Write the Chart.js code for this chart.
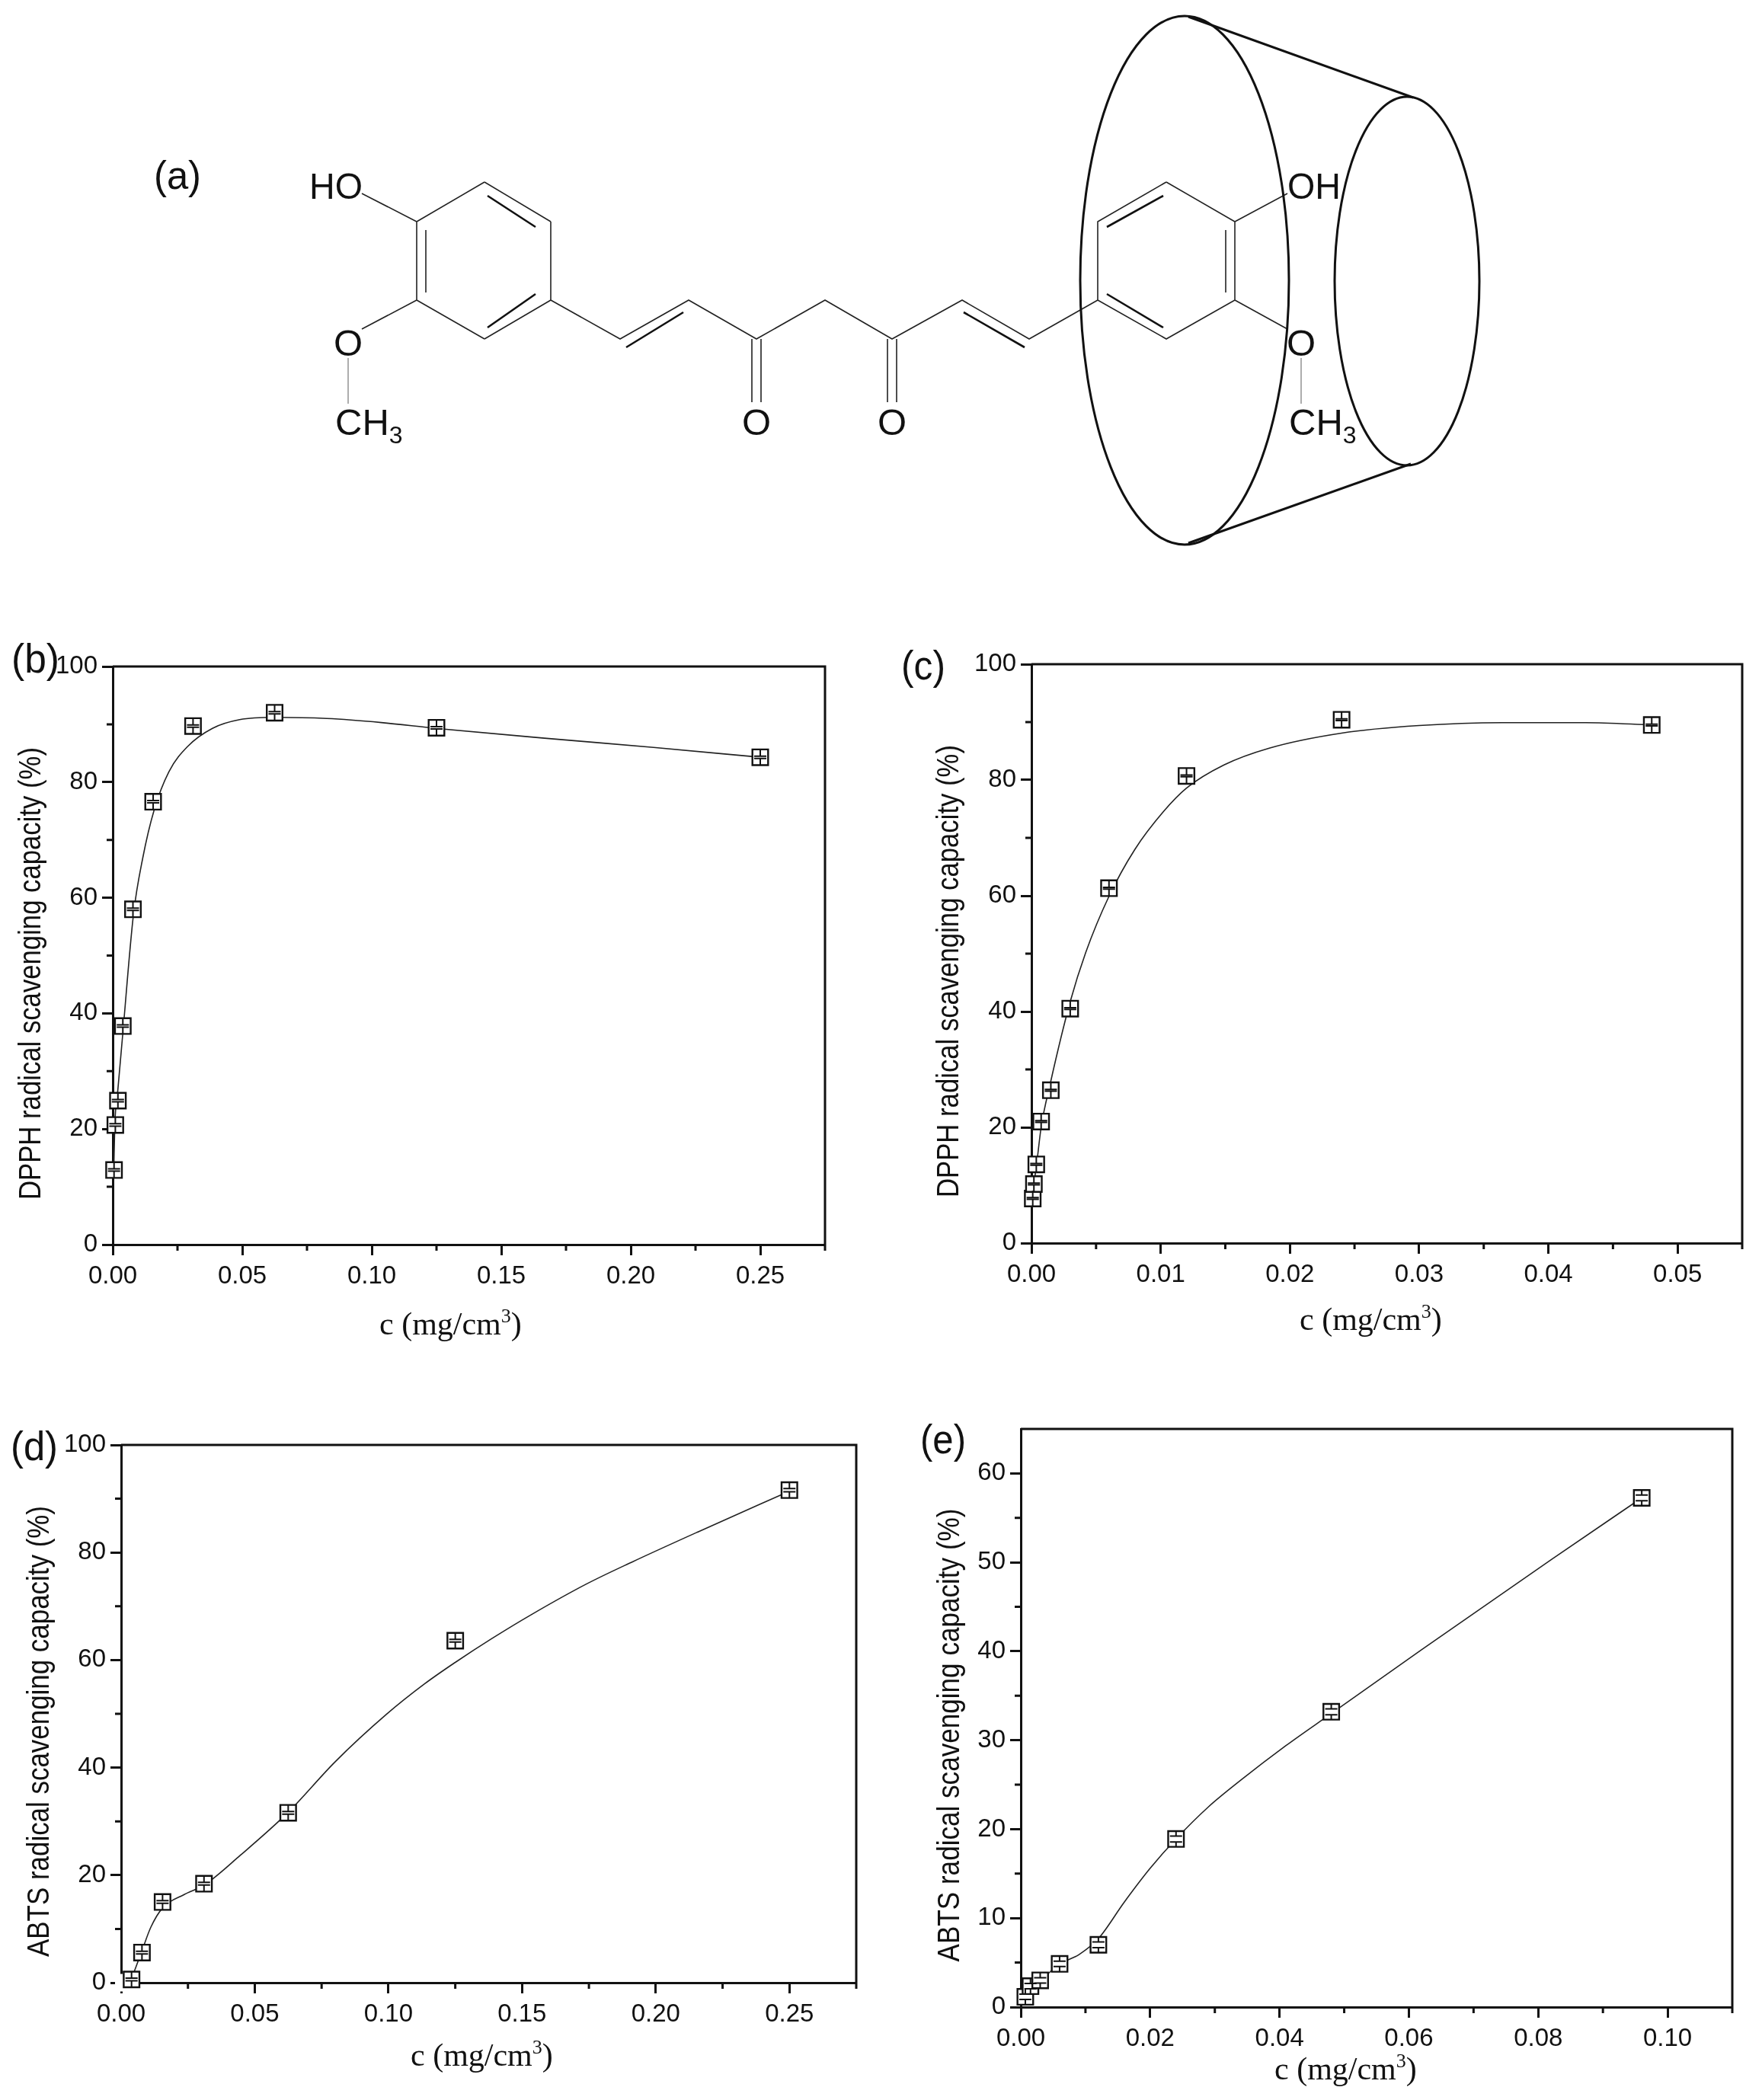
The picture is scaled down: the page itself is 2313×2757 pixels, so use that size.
<!DOCTYPE html>
<html>
<head>
<meta charset="utf-8">
<title>Curcumin scavenging capacity</title>
<script src="https://cdn.jsdelivr.net/npm/chart.js@4/dist/chart.umd.min.js"></script>
<style>
    html, body { margin: 0; padding: 0; background: #fff; }
    #page { position: relative; width: 2313px; height: 2757px; overflow: hidden; background: #fff; }
    canvas { position: absolute; }
    svg { position: absolute; left: 0; top: 0; }
    .sans { font-family: "Liberation Sans", Arial, sans-serif; fill: #111; }
    .serif { font-family: "Liberation Serif", "Times New Roman", serif; fill: #111; }
    .bond { stroke: #222; stroke-width: 1.6; fill: none; }
    .bold { stroke: #111; stroke-width: 2.6; fill: none; }
    .grey { stroke: #999; stroke-width: 1.6; fill: none; }
    .cone { stroke: #111; stroke-width: 3; fill: none; }
</style>
</head>
<body>
<div id="page">
    <canvas id="chartB"></canvas>
    <canvas id="chartC"></canvas>
    <canvas id="chartD"></canvas>
    <canvas id="chartE"></canvas>

    <svg width="2313" height="2757" viewBox="0 0 2313 2757">
        <!-- (a) curcumin structure in the cone -->
        <g>
            <path class="bond" d="M636 239 L723 291 M723 291 L723 394 M723 394 L636 445 M636 445 L547 394 M547 394 L547 291 M547 291 L636 239"/>
            <path class="bold" d="M640 257 L703 298 M703 386 L640 430"/>
            <path class="bond" d="M559 302 L559 384"/>
            <path class="bond" d="M475 254 L547 291 M547 394 L475 432"/>
            <path class="grey" d="M457 470 L457 530"/>
            <path class="bond" d="M723 394 L814 445 L904 394 L993 445 L1083 394 L1171 445 L1263 394 L1351 445 L1441 394"/>
            <path class="bold" d="M822 456 L897 410 M1265 410 L1345 456"/>
            <path class="bond" d="M987 445 L987 528 M999 445 L999 528 M1165 445 L1165 528 M1177 445 L1177 528"/>
            <path class="bond" d="M1531 239 L1441 291 L1441 394 L1531 445 L1621 394 L1621 291 L1531 239"/>
            <path class="bold" d="M1527 257 L1453 298 M1453 386 L1527 430"/>
            <path class="bond" d="M1609 302 L1609 384"/>
            <path class="bond" d="M1621 291 L1690 254 M1621 394 L1690 432"/>
            <path class="grey" d="M1708 470 L1708 530"/>
            <ellipse class="cone" cx="1555" cy="368" rx="137" ry="347"/>
            <ellipse class="cone" cx="1847" cy="369" rx="95" ry="242"/>
            <path class="cone" d="M1560 22 L1855 128 M1560 713 L1852 609"/>
        </g>
        <text class="sans" font-size="52" x="202" y="248" textLength="62" lengthAdjust="spacingAndGlyphs">(a)</text>
        <text class="sans" font-size="49" x="406" y="261" textLength="70" lengthAdjust="spacingAndGlyphs">HO</text>
        <text class="sans" font-size="49" x="1690" y="261" textLength="70" lengthAdjust="spacingAndGlyphs">OH</text>
        <text class="sans" font-size="49" x="457" y="467" text-anchor="middle">O</text>
        <text class="sans" font-size="49" x="1708" y="467" text-anchor="middle">O</text>
        <text class="sans" font-size="49" x="993" y="571" text-anchor="middle">O</text>
        <text class="sans" font-size="49" x="1171" y="571" text-anchor="middle">O</text>
        <text class="sans" font-size="49" x="440" y="571">CH<tspan font-size="32" dy="11">3</tspan></text>
        <text class="sans" font-size="49" x="1692" y="571">CH<tspan font-size="32" dy="11">3</tspan></text>

        <!-- panel letters -->
        <text class="sans" font-size="54" x="15" y="883" textLength="63" lengthAdjust="spacingAndGlyphs">(b)</text>
        <text class="sans" font-size="54" x="1183" y="892" textLength="58" lengthAdjust="spacingAndGlyphs">(c)</text>
        <text class="sans" font-size="54" x="14" y="1917" textLength="62" lengthAdjust="spacingAndGlyphs">(d)</text>
        <text class="sans" font-size="54" x="1208" y="1908" textLength="60" lengthAdjust="spacingAndGlyphs">(e)</text>

        <!-- axis titles -->
        <text class="sans" font-size="40" text-anchor="middle" textLength="594" lengthAdjust="spacingAndGlyphs" transform="translate(53 1278) rotate(-90)">DPPH radical scavenging capacity (%)</text>
        <text class="sans" font-size="40" text-anchor="middle" textLength="594" lengthAdjust="spacingAndGlyphs" transform="translate(1258 1275) rotate(-90)">DPPH radical scavenging capacity (%)</text>
        <text class="sans" font-size="40" text-anchor="middle" textLength="592" lengthAdjust="spacingAndGlyphs" transform="translate(64 2273) rotate(-90)">ABTS radical scavenging capacity (%)</text>
        <text class="sans" font-size="40" text-anchor="middle" textLength="595" lengthAdjust="spacingAndGlyphs" transform="translate(1259 2278) rotate(-90)">ABTS radical scavenging capacity (%)</text>
        <text class="serif" font-size="42" x="498" y="1752">c (mg/cm<tspan font-size="26" dy="-16">3</tspan><tspan dy="16">)</tspan></text>
        <text class="serif" font-size="42" x="1706" y="1746">c (mg/cm<tspan font-size="26" dy="-16">3</tspan><tspan dy="16">)</tspan></text>
        <text class="serif" font-size="42" x="539" y="2712">c (mg/cm<tspan font-size="26" dy="-16">3</tspan><tspan dy="16">)</tspan></text>
        <text class="serif" font-size="42" x="1673" y="2730">c (mg/cm<tspan font-size="26" dy="-16">3</tspan><tspan dy="16">)</tspan></text>
    </svg>
</div>

<script>
// (b) DPPH, wide concentration range
const bPointX = [0.0005, 0.001, 0.002, 0.0039, 0.0078, 0.0156, 0.031, 0.0625, 0.125, 0.25];
const bPointY = [12.9, 20.7, 24.9, 37.8, 58, 76.6, 89.7, 92, 89.4, 84.3];
const bErr = [0.2, 0.2, 0.2, 0.2, 0.2, 0.2, 0.2, 0.2, 0.2, 0.2];
const bCurveX = [0.0004, 0.0008, 0.0019, 0.0038, 0.008, 0.0116, 0.016, 0.0217, 0.029, 0.0385, 0.049, 0.0627, 0.0826, 0.1037, 0.1247, 0.1667, 0.2088, 0.25];
const bCurveY = [12.9, 20.7, 26.4, 36.1, 57.1, 66.9, 75.2, 81.8, 86.2, 89.3, 90.8, 91.2, 91, 90.3, 89.3, 87.6, 86, 84.3];
const bXTicks = [0, 0.05, 0.1, 0.15, 0.2, 0.25];
const bXMinor = [0.025, 0.075, 0.125, 0.175, 0.225, 0.275];
const bYTicks = [0, 20, 40, 60, 80, 100];
const bYMinor = [10, 30, 50, 70, 90];

// (c) DPPH, narrow concentration range
const cPointX = [0.0001, 0.00019, 0.000375, 0.00075, 0.0015, 0.003, 0.006, 0.012, 0.024, 0.048];
const cPointY = [7.7, 10.2, 13.6, 21, 26.4, 40.5, 61.3, 80.7, 90.4, 89.5];
const cErr = [0.15, 0.15, 0.15, 0.15, 0.15, 0.15, 0.15, 0.15, 0.15, 0.15];
const cCurveX = [0.0001, 0.0002, 0.0004, 0.00075, 0.00146, 0.003, 0.0042, 0.006, 0.008, 0.0102, 0.012, 0.0149, 0.0184, 0.024, 0.03, 0.0364, 0.0429, 0.0481];
const cCurveY = [7.7, 10.2, 13.6, 20, 27.6, 41.7, 50.2, 59.9, 68, 74.5, 78.6, 82.6, 85.5, 88.1, 89.4, 89.9, 89.9, 89.5];
const cXTicks = [0, 0.01, 0.02, 0.03, 0.04, 0.05];
const cXMinor = [0.005, 0.015, 0.025, 0.035, 0.045, 0.055];
const cYTicks = [0, 20, 40, 60, 80, 100];
const cYMinor = [10, 30, 50, 70, 90];

// (d) ABTS, wide concentration range
const dPointX = [0.001, 0.0039, 0.0078, 0.0155, 0.031, 0.0625, 0.125, 0.25];
const dPointY = [0, 0.6, 5.6, 15, 18.4, 31.6, 63.6, 91.6];
const dErr = [0, 0.25, 0.25, 0.25, 0.25, 0.25, 0.25, 0.3];
const dCurveX = [0.0038, 0.0077, 0.0111, 0.0155, 0.0236, 0.0312, 0.0446, 0.0623, 0.0801, 0.099, 0.1136, 0.1251, 0.1387, 0.1533, 0.1743, 0.191, 0.2161, 0.25];
const dCurveY = [0.6, 5.8, 10.3, 13.9, 16.4, 18.2, 23.7, 31.6, 41.1, 49.8, 55.6, 59.6, 64, 68.4, 74.2, 78.2, 83.9, 91.4];
const dXTicks = [0, 0.05, 0.1, 0.15, 0.2, 0.25];
const dXMinor = [0.025, 0.075, 0.125, 0.175, 0.225, 0.275];
const dYTicks = [0, 20, 40, 60, 80, 100];
const dYMinor = [10, 30, 50, 70, 90];

// (e) ABTS, narrow concentration range
const ePointX = [0.0007, 0.0015, 0.003, 0.006, 0.012, 0.024, 0.048, 0.096];
const ePointY = [1.15, 2.35, 3, 4.85, 7, 18.9, 33.2, 57.25];
const eErr = [0.3, 0.3, 0.3, 0.3, 0.33, 0.33, 0.33, 0.33];
const eCurveX = [0.0007, 0.0015, 0.003, 0.006, 0.009, 0.012, 0.016, 0.02, 0.024, 0.029, 0.034, 0.041, 0.048, 0.062, 0.082, 0.096];
const eCurveY = [1.15, 2.35, 3, 4.85, 5.9, 7.7, 11.8, 15.6, 18.9, 22.5, 25.5, 29.4, 33, 40.2, 50.3, 57.25];
const eXTicks = [0, 0.02, 0.04, 0.06, 0.08, 0.1];
const eXMinor = [0.01, 0.03, 0.05, 0.07, 0.09, 0.11];
const eYTicks = [0, 10, 20, 30, 40, 50, 60];
const eYMinor = [5, 15, 25, 35, 45, 55];

const AXIS_COLOR = '#111';
const BOX_HALF = 10.3;
const CAP_HALF = 8;

function toPoints(xs, ys) {
    return xs.map((x, i) => ({ x: x, y: ys[i] }));
}

// Right/top frame lines and the short unlabelled ticks
const framePlugin = {
    id: 'frame',
    beforeDatasetsDraw(chart, args, opts) {
        const ctx = chart.ctx;
        const area = chart.chartArea;
        ctx.save();
        ctx.strokeStyle = AXIS_COLOR;
        ctx.lineWidth = 3;
        ctx.beginPath();
        ctx.moveTo(area.left, area.top);
        ctx.lineTo(area.right, area.top);
        ctx.lineTo(area.right, area.bottom);
        opts.xMinor.forEach(v => {
            const px = chart.scales.x.getPixelForValue(v);
            ctx.moveTo(px, area.bottom);
            ctx.lineTo(px, area.bottom + 8);
        });
        opts.yMinor.forEach(v => {
            const py = chart.scales.y.getPixelForValue(v);
            ctx.moveTo(area.left, py);
            ctx.lineTo(area.left - 8, py);
        });
        ctx.stroke();
        ctx.restore();
    }
};

// Error bars sit inside each square marker, the stems run out to its edge
const errorBarPlugin = {
    id: 'errorBars',
    afterDatasetsDraw(chart, args, opts) {
        const ctx = chart.ctx;
        const yScale = chart.scales.y;
        const points = chart.getDatasetMeta(0).data;
        ctx.save();
        ctx.strokeStyle = '#111';
        ctx.lineWidth = 2;
        points.forEach((pt, i) => {
            if (!opts.errors[i]) return;
            const value = chart.data.datasets[0].data[i].y;
            const up = yScale.getPixelForValue(value + opts.errors[i]);
            const down = yScale.getPixelForValue(value - opts.errors[i]);
            ctx.beginPath();
            ctx.moveTo(pt.x - CAP_HALF, up);
            ctx.lineTo(pt.x + CAP_HALF, up);
            ctx.moveTo(pt.x - CAP_HALF, down);
            ctx.lineTo(pt.x + CAP_HALF, down);
            ctx.moveTo(pt.x, pt.y - BOX_HALF);
            ctx.lineTo(pt.x, up);
            ctx.moveTo(pt.x, down);
            ctx.lineTo(pt.x, pt.y + BOX_HALF);
            ctx.stroke();
        });
        ctx.restore();
    }
};

function makePanel(id, box, xMax, yMax, panel) {
    // box is the plot rectangle in page pixels
    const marginLeft = 145;
    const marginTop = 30;
    const marginRight = 40;
    const marginBottom = 75;
    const canvas = document.getElementById(id);
    const width = box.right - box.left + marginLeft + marginRight;
    const height = box.bottom - box.top + marginTop + marginBottom;
    canvas.style.left = (box.left - marginLeft) + 'px';
    canvas.style.top = (box.top - marginTop) + 'px';
    canvas.width = width;
    canvas.height = height;

    const tickFont = { family: '"Liberation Sans", Arial, sans-serif', size: 33 };

    return new Chart(canvas.getContext('2d'), {
        type: 'line',
        data: {
            datasets: [
                {
                    label: 'measured',
                    data: toPoints(panel.pointX, panel.pointY),
                    showLine: false,
                    pointStyle: 'rect',
                    pointRadius: BOX_HALF * Math.SQRT2,
                    pointBorderWidth: 2.4,
                    pointBackgroundColor: '#fff',
                    pointBorderColor: panel.pointY.map(v => (v === 0 ? '#fff' : '#111')),
                    clip: false
                },
                {
                    label: 'fit',
                    data: toPoints(panel.curveX, panel.curveY),
                    borderColor: '#222',
                    borderWidth: 1.6,
                    pointRadius: 0,
                    cubicInterpolationMode: 'monotone',
                    fill: false,
                    clip: false
                }
            ]
        },
        options: {
            responsive: false,
            animation: false,
            devicePixelRatio: 1,
            layout: { padding: { top: marginTop, right: marginRight, left: 0, bottom: 0 } },
            plugins: {
                legend: { display: false },
                title: { display: false },
                tooltip: { enabled: false },
                frame: { xMinor: panel.xMinor, yMinor: panel.yMinor },
                errorBars: { errors: panel.errors }
            },
            scales: {
                x: {
                    type: 'linear',
                    min: 0,
                    max: xMax,
                    afterBuildTicks: axis => { axis.ticks = panel.xTicks.map(v => ({ value: v })); },
                    afterFit: axis => { axis.height = marginBottom; },
                    border: { display: true, color: AXIS_COLOR, width: 3 },
                    grid: { drawOnChartArea: false, drawTicks: true, tickLength: 14, tickWidth: 3, tickColor: AXIS_COLOR },
                    ticks: {
                        color: '#111',
                        font: tickFont,
                        padding: 8,
                        maxRotation: 0,
                        autoSkip: false,
                        callback: v => v.toFixed(2)
                    }
                },
                y: {
                    type: 'linear',
                    min: 0,
                    max: yMax,
                    afterBuildTicks: axis => { axis.ticks = panel.yTicks.map(v => ({ value: v })); },
                    afterFit: axis => { axis.width = marginLeft; },
                    border: { display: true, color: AXIS_COLOR, width: 3 },
                    grid: { drawOnChartArea: false, drawTicks: true, tickLength: 14, tickWidth: 3, tickColor: AXIS_COLOR },
                    ticks: { color: '#111', font: tickFont, padding: 6, autoSkip: false }
                }
            }
        },
        plugins: [framePlugin, errorBarPlugin]
    });
}

makePanel('chartB', { left: 148, right: 1083, top: 875, bottom: 1634 }, 0.275, 100, {
    pointX: bPointX, pointY: bPointY, errors: bErr, curveX: bCurveX, curveY: bCurveY,
    xTicks: bXTicks, xMinor: bXMinor, yTicks: bYTicks, yMinor: bYMinor
});
makePanel('chartC', { left: 1354, right: 2287, top: 872, bottom: 1632 }, 0.055, 100, {
    pointX: cPointX, pointY: cPointY, errors: cErr, curveX: cCurveX, curveY: cCurveY,
    xTicks: cXTicks, xMinor: cXMinor, yTicks: cYTicks, yMinor: cYMinor
});
makePanel('chartD', { left: 159, right: 1124, top: 1897, bottom: 2603 }, 0.275, 100, {
    pointX: dPointX, pointY: dPointY, errors: dErr, curveX: dCurveX, curveY: dCurveY,
    xTicks: dXTicks, xMinor: dXMinor, yTicks: dYTicks, yMinor: dYMinor
});
makePanel('chartE', { left: 1340, right: 2274, top: 1876, bottom: 2635 }, 0.11, 65, {
    pointX: ePointX, pointY: ePointY, errors: eErr, curveX: eCurveX, curveY: eCurveY,
    xTicks: eXTicks, xMinor: eXMinor, yTicks: eYTicks, yMinor: eYMinor
});
</script>
</body>
</html>
